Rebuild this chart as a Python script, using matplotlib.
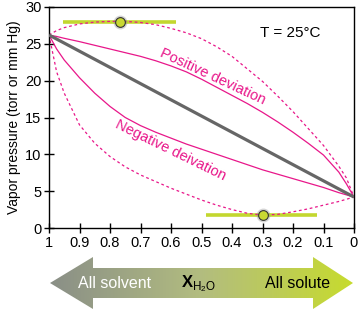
import numpy as np
import matplotlib
matplotlib.use("Agg")
import matplotlib.pyplot as plt
from matplotlib.patches import Polygon

plt.rcParams['font.family'] = ['Liberation Sans', 'DejaVu Sans']
plt.rcParams['mathtext.fontset'] = 'custom'
plt.rcParams['mathtext.rm'] = 'Liberation Sans'
plt.rcParams['mathtext.bf'] = 'Liberation Sans:bold'

# ---- data ----
x_h2o = [1.0, 0.975, 0.95, 0.9, 0.85, 0.8, 0.75, 0.7, 0.65, 0.6, 0.55, 0.5,
         0.45, 0.4, 0.35, 0.3, 0.25, 0.2, 0.15, 0.1, 0.05, 0.025, 0.0]
ideal_x = [1.0, 0.0]
ideal_p = [26.2, 4.2]
strong_pos = [26.2, 26.8, 27.2, 27.7, 27.95, 28.05, 28.05, 27.9, 27.6, 27.1, 26.5, 25.7,
              24.6, 23.3, 21.6, 19.9, 17.9, 15.8, 13.5, 11.2, 8.4, 6.8, 4.2]
positive = [26.2, 26.0, 25.75, 25.3, 24.8, 24.3, 23.8, 23.3, 22.7, 22.0, 21.2, 20.2,
            19.1, 18.0, 16.9, 15.7, 14.4, 13.0, 11.5, 9.9, 7.6, 6.0, 4.2]
negative = [26.2, 24.3, 22.8, 20.4, 18.3, 16.5, 15.0, 13.9, 13.0, 12.2, 11.4, 10.7,
            10.0, 9.3, 8.6, 7.9, 7.3, 6.7, 6.1, 5.5, 4.8, 4.5, 4.2]
strong_neg = [26.2, 21.2, 18.3, 14.0, 11.5, 9.7, 8.3, 7.2, 6.3, 5.4, 4.6, 3.8,
              3.1, 2.5, 2.0, 1.75, 1.85, 2.2, 2.6, 3.1, 3.6, 3.9, 4.2]
max_x, max_p, max_span = 0.767, 28.0, [0.953, 0.584]
min_x, min_p, min_span = 0.30, 1.75, [0.485, 0.12]
xticks = [1, 0.9, 0.8, 0.7, 0.6, 0.5, 0.4, 0.3, 0.2, 0.1, 0]
xticklabels = ['1', '0.9', '0.8', '0.7', '0.6', '0.5', '0.4', '0.3', '0.2', '0.1', '0']
yticks = [0, 5, 10, 15, 20, 25, 30]

pink = '#e8178a'
lime = '#c3d72f'

fig = plt.figure(figsize=(3.59, 3.10), dpi=100)
ax = fig.add_axes([49/359, 1-228/310, 305/359, 221/310])

ax.plot(x_h2o, strong_pos, color=pink, lw=0.9, ls=(0, (2.2, 2.2)), zorder=2)
ax.plot(x_h2o, strong_neg, color=pink, lw=0.9, ls=(0, (2.2, 2.2)), zorder=2)
ax.plot(x_h2o, positive, color=pink, lw=0.9, zorder=2)
ax.plot(x_h2o, negative, color=pink, lw=0.9, zorder=2)
ax.plot(ideal_x, ideal_p, color='#666666', lw=2.3, solid_capstyle='butt', zorder=3)

ax.plot(max_span, [max_p, max_p], color=lime, lw=2.6, solid_capstyle='butt', zorder=1)
ax.plot(min_span, [min_p, min_p], color=lime, lw=2.6, solid_capstyle='butt', zorder=1)
for (mx, my) in [(max_x, max_p), (min_x, min_p)]:
    ax.plot([mx], [my], 'o', ms=10, color='#888888', alpha=0.35, mew=0, zorder=4)
    ax.plot([mx], [my], 'o', ms=7, mfc='#c8d832', mec='#333333', mew=0.8, zorder=5)

ax.text(0.462, 20.6, 'Positive deviation', color=pink, fontsize=10.5,
        rotation=-25, ha='center', va='center', rotation_mode='anchor')
ax.text(0.60, 10.6, 'Negative deivation', color=pink, fontsize=10.5,
        rotation=-26, ha='center', va='center', rotation_mode='anchor')
ax.text(0.21, 26.5, 'T = 25°C', fontsize=11, ha='center', va='center')

ax.set_xlim(1, 0)
ax.set_ylim(0, 30)
ax.set_xticks(xticks)
ax.set_xticklabels(xticklabels)
ax.set_yticks(yticks)
ax.tick_params(direction='inout', length=7, width=1, labelsize=10.5, pad=2)
ax.set_ylabel('Vapor pressure (torr or mm Hg)', fontsize=10, labelpad=3)
for s in ax.spines.values():
    s.set_linewidth(1)

# ---- bottom gradient double arrow ----
bx = fig.add_axes([0, 0, 1, 1], zorder=-1)
bx.set_xlim(0, 359)
bx.set_ylim(310, 0)
bx.axis('off')
cy = 283
verts = [(50, cy), (93, cy-26), (93, cy-15), (313, cy-15), (313, cy-26), (353, cy),
         (313, cy+26), (313, cy+15), (93, cy+15), (93, cy+26)]
poly = Polygon(verts, closed=True, facecolor='none', edgecolor='none')
bx.add_patch(poly)
c_left = np.array([0.54, 0.56, 0.53])
c_mid = np.array([0.70, 0.74, 0.50])
c_right = np.array([0.78, 0.86, 0.18])
t = np.linspace(0, 1, 300)
grad = np.where(t[:, None] < 0.5,
                c_left + (c_mid - c_left) * (t[:, None] / 0.5),
                c_mid + (c_right - c_mid) * ((t[:, None] - 0.5) / 0.5))
img = bx.imshow(grad[None, :, :], extent=[50, 353, cy+26, cy-26], aspect='auto')
img.set_clip_path(poly)
bx.text(115, cy+1, 'All solvent', color='white', fontsize=11.5, ha='center', va='center')
bx.text(298, cy+1, 'All solute', color='black', fontsize=11.5, ha='center', va='center')
bx.text(199, cy+1, r'$\mathbf{X}_{\mathrm{H_2O}}$', color='black', fontsize=12,
        ha='center', va='center')

fig.savefig('out.png', dpi=100)
